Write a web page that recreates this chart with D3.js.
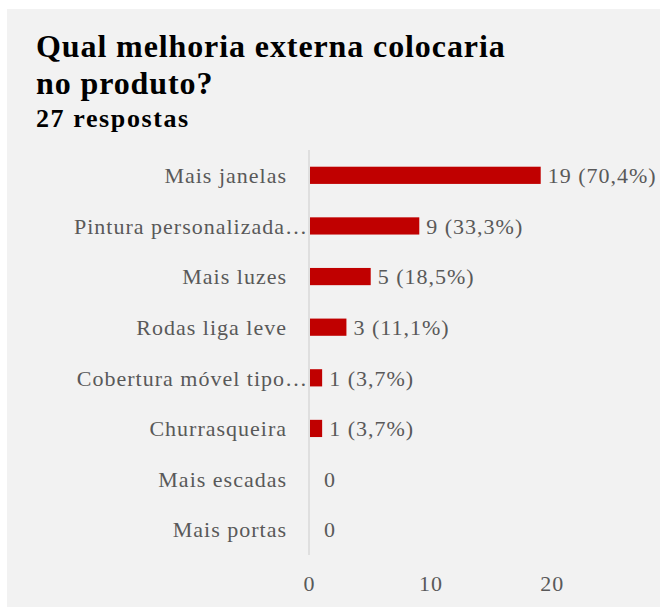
<!DOCTYPE html>
<html>
<head>
<meta charset="utf-8">
<script src="https://cdn.jsdelivr.net/npm/d3@7"></script>
<style>
  html, body { margin: 0; padding: 0; background: #ffffff; }
  svg { display: block; }
</style>
</head>
<body>
<div id="chart"></div>
<script>
const categories = [
  "Mais janelas",
  "Pintura personalizada…",
  "Mais luzes",
  "Rodas liga leve",
  "Cobertura móvel tipo…",
  "Churrasqueira",
  "Mais escadas",
  "Mais portas"
];
const counts = [19, 9, 5, 3, 1, 1, 0, 0];
const valueLabels = ["19 (70,4%)", "9 (33,3%)", "5 (18,5%)", "3 (11,1%)", "1 (3,7%)", "1 (3,7%)", "0", "0"];
const tickValues = [0, 10, 20];
const titleLines = ["Qual melhoria externa colocaria", "no produto?"];
const subtitle = "27 respostas";

const width = 660;
const height = 614;
const font = "'Liberation Serif', 'DejaVu Serif', serif";

const svg = d3.select("#chart").append("svg")
  .attr("width", width)
  .attr("height", height);

svg.append("rect")
  .attr("x", 7).attr("y", 9)
  .attr("width", width - 7).attr("height", 598)
  .attr("fill", "#f2f2f2");

const title = svg.append("g").attr("font-family", font).attr("fill", "#000");
title.selectAll("text.title")
  .data(titleLines)
  .join("text")
  .attr("class", "title")
  .attr("x", 36)
  .attr("y", (d, i) => 57 + i * 37)
  .attr("font-size", 32)
  .attr("font-weight", 700)
  .attr("letter-spacing", 0.9)
  .text(d => d);
title.append("text")
  .attr("x", 36).attr("y", 127)
  .attr("font-size", 26)
  .attr("font-weight", 700)
  .attr("letter-spacing", 1.6)
  .text(subtitle);

const x = d3.scaleLinear().domain([0, 28]).range([309, 649]);
const y = d3.scaleBand().domain(categories).range([150, 555]).paddingInner(0.66).paddingOuter(0.33);

svg.append("line")
  .attr("x1", x(0)).attr("x2", x(0))
  .attr("y1", 150).attr("y2", 555)
  .attr("stroke", "#d9d9d9").attr("stroke-width", 1.5);

svg.append("g")
  .selectAll("rect")
  .data(categories)
  .join("rect")
  .attr("x", x(0) + 1)
  .attr("y", d => y(d))
  .attr("width", (d, i) => Math.max(0, x(counts[i]) - x(0)))
  .attr("height", y.bandwidth())
  .attr("fill", "#c00000");

const labelGroup = svg.append("g")
  .attr("font-family", font)
  .attr("font-size", 22)
  .attr("letter-spacing", 1)
  .attr("fill", "#595959");

labelGroup.selectAll("text.cat")
  .data(categories)
  .join("text")
  .attr("class", "cat")
  .attr("x", d => d.endsWith("…") ? 308 : 287)
  .attr("y", d => y(d) + y.bandwidth() / 2)
  .attr("dy", "0.35em")
  .attr("text-anchor", "end")
  .text(d => d);

labelGroup.selectAll("text.val")
  .data(categories)
  .join("text")
  .attr("class", "val")
  .attr("x", (d, i) => x(counts[i]) + (counts[i] > 0 ? 8 : 15))
  .attr("y", d => y(d) + y.bandwidth() / 2)
  .attr("dy", "0.35em")
  .text((d, i) => valueLabels[i]);

const xAxis = svg.append("g")
  .attr("transform", "translate(0,575)")
  .call(d3.axisBottom(x).tickValues(tickValues).tickSize(0).tickPadding(0));
xAxis.select(".domain").remove();
xAxis.selectAll("text")
  .attr("font-family", font)
  .attr("font-size", 22)
  .attr("letter-spacing", 1)
  .attr("fill", "#595959")
  .attr("dy", "0.71em");
</script>
</body>
</html>
